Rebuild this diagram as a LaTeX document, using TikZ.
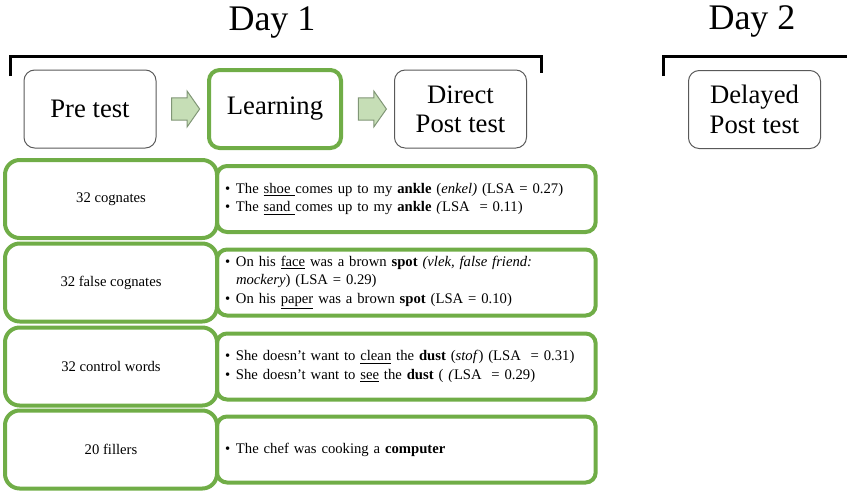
\documentclass[tikz,border=0pt]{standalone}
\usepackage{fontspec}
\setmainfont{Liberation Serif}
\usetikzlibrary{positioning,calc,shapes.arrows}
\definecolor{ogreen}{RGB}{112,173,71}
\definecolor{afill}{RGB}{198,222,182}
\definecolor{aline}{RGB}{128,150,118}
\newcommand{\itm}{\makebox[8.25pt][l]{\textbullet}}

\begin{document}
\begin{tikzpicture}[x=0.75pt,y=-0.75pt]
\tikzstyle{stage}=[draw=black!65,line width=0.75pt,rounded corners=8pt,minimum width=99pt,minimum height=58.5pt,align=center,font=\fontsize{20}{22}\selectfont]
\tikzstyle{cond}=[draw=ogreen,line width=3pt,outer sep=0pt,rounded corners=11pt,minimum width=159pt,minimum height=58.5pt,font=\fontsize{11}{14}\selectfont]
\tikzstyle{ex}=[draw=ogreen,line width=3pt,outer sep=0pt,rounded corners=7.5pt,minimum height=49.5pt,text width=272pt,inner xsep=6pt,align=left,font=\fontsize{11}{14}\selectfont]
\tikzstyle{go}=[single arrow,draw=aline,fill=afill,line width=0.75pt,minimum height=21pt,inner xsep=0pt,inner ysep=8pt,single arrow head extend=5pt,single arrow tip angle=110]
\tikzstyle{day}=[font=\fontsize{27}{30}\selectfont]
\useasboundingbox (0,0) rectangle (847,490);

% days
\node[day] (d1) at (272,22) {Day 1};
\node[day] (d2) at (752,21) {Day 2};
\draw[line width=2.25pt] (10,76) -- (10,56) -- (541,56) -- (541,73);
\draw[line width=2.25pt] (663,76) -- (663,56) -- (847,56);

% stages
\node[stage] (pre) at (90,109) {Pre test};
\node[stage,draw=ogreen,line width=3pt] (learn) at (275,109) {Learning};
\node[stage] (post) at (460.5,109) {Direct\\Post test};
\node[stage] (delay) at (754.5,109.5) {Delayed\\Post test};
\node[go] (a1) at ($(pre.east)!0.5!(learn.west)$) {};
\node[go] (a2) at ($(learn.east)!0.5!(post.west)$) {};

% conditions
\node[cond] (c1) at (111,199) {32 cognates};
\node[ex,anchor=west] (e1) at (c1.east) {\itm The \underline{shoe\ }comes up to my \textbf{ankle} (\textit{enkel)} (LSA = 0.27)\\
\itm The \underline{sand\ }comes up to my \textbf{ankle} \textit{(}LSA \ = 0.11)};
\node[cond] (c2) at (111,282.5) {32 false cognates};
\node[ex,anchor=west] (e2) at (c2.east) {\itm On his \underline{face} was a brown \textbf{spot} \textit{(vlek, false friend:}\\
\hspace*{8.25pt}\textit{mockery}) (LSA = 0.29)\\
\itm On his \underline{paper} was a brown \textbf{spot} (LSA = 0.10)};
\node[cond] (c3) at (111,366.5) {32 control words};
\node[ex,anchor=west] (e3) at (c3.east) {\itm She doesn’t want to \underline{clean} the \textbf{dust} (\textit{stof}) (LSA \ = 0.31)\\
\itm She doesn’t want to \underline{see} the \textbf{dust} ( \textit{(}LSA \ = 0.29)};
\node[cond] (c4) at (111,449.5) {20 fillers};
\node[ex,anchor=west] (e4) at (c4.east) {\itm The chef was cooking a \textbf{computer}};
\end{tikzpicture}
\end{document}
